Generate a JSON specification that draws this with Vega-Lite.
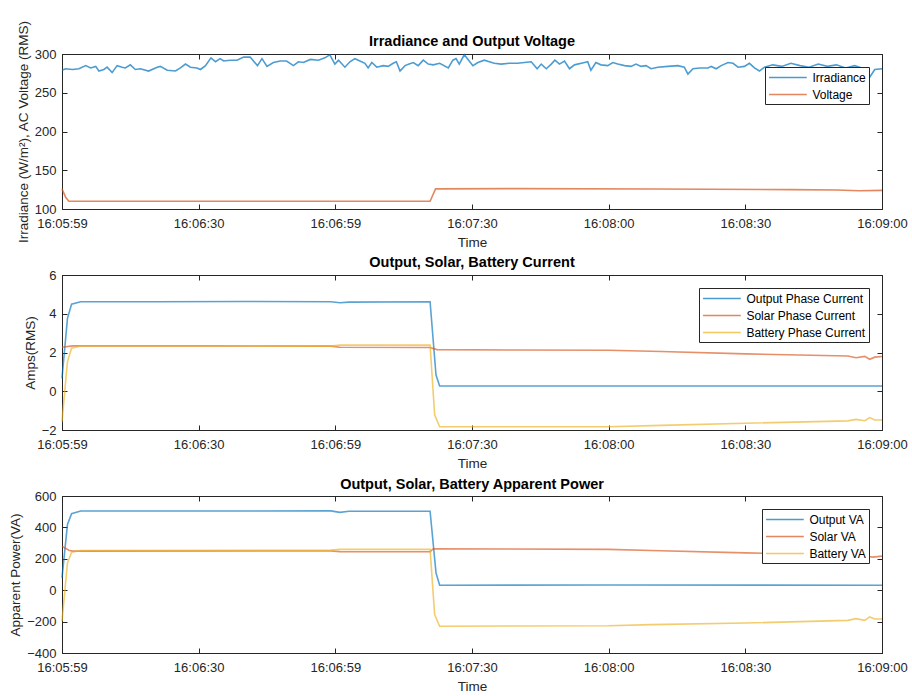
{
  "$schema": "https://vega.github.io/schema/vega-lite/v6.json",
  "padding": {"left": 8, "top": 19, "right": 7, "bottom": 4},
  "background": "white",
  "datasets": {
    "p1": [
      {"t":0,"s":"Irradiance","v":279},{"t":0.8,"s":"Irradiance","v":281},{"t":2.3,"s":"Irradiance","v":280},{"t":3.7,"s":"Irradiance","v":281},{"t":5.2,"s":"Irradiance","v":285},{"t":6.3,"s":"Irradiance","v":282},{"t":7.4,"s":"Irradiance","v":284},{"t":8.1,"s":"Irradiance","v":278},{"t":9.2,"s":"Irradiance","v":280},{"t":9.9,"s":"Irradiance","v":283},{"t":11,"s":"Irradiance","v":276},{"t":12.1,"s":"Irradiance","v":285},{"t":13.2,"s":"Irradiance","v":283},{"t":13.9,"s":"Irradiance","v":282},{"t":15,"s":"Irradiance","v":286},{"t":16.1,"s":"Irradiance","v":280},{"t":17.2,"s":"Irradiance","v":281},{"t":19,"s":"Irradiance","v":278},{"t":20.9,"s":"Irradiance","v":283},{"t":21.6,"s":"Irradiance","v":284},{"t":23.1,"s":"Irradiance","v":279},{"t":24.9,"s":"Irradiance","v":278},{"t":26,"s":"Irradiance","v":282},{"t":27.1,"s":"Irradiance","v":287},{"t":28.2,"s":"Irradiance","v":283},{"t":29.6,"s":"Irradiance","v":282},{"t":30.4,"s":"Irradiance","v":280},{"t":31.5,"s":"Irradiance","v":285},{"t":32.7,"s":"Irradiance","v":295},{"t":33.7,"s":"Irradiance","v":290},{"t":34.7,"s":"Irradiance","v":294},{"t":35.5,"s":"Irradiance","v":291},{"t":36.9,"s":"Irradiance","v":292},{"t":38.4,"s":"Irradiance","v":292},{"t":39.9,"s":"Irradiance","v":296},{"t":41.3,"s":"Irradiance","v":296},{"t":42.9,"s":"Irradiance","v":285},{"t":43.9,"s":"Irradiance","v":294},{"t":45,"s":"Irradiance","v":284},{"t":46.4,"s":"Irradiance","v":289},{"t":47.9,"s":"Irradiance","v":291},{"t":49.3,"s":"Irradiance","v":291},{"t":50.8,"s":"Irradiance","v":285},{"t":51.9,"s":"Irradiance","v":290},{"t":53,"s":"Irradiance","v":289},{"t":54.5,"s":"Irradiance","v":293},{"t":56.3,"s":"Irradiance","v":292},{"t":57.7,"s":"Irradiance","v":295},{"t":58.8,"s":"Irradiance","v":299},{"t":59.9,"s":"Irradiance","v":287},{"t":60.7,"s":"Irradiance","v":292},{"t":62.1,"s":"Irradiance","v":283},{"t":63.2,"s":"Irradiance","v":290},{"t":64.3,"s":"Irradiance","v":294},{"t":65.4,"s":"Irradiance","v":291},{"t":66.5,"s":"Irradiance","v":288},{"t":67.2,"s":"Irradiance","v":282},{"t":68,"s":"Irradiance","v":289},{"t":69.1,"s":"Irradiance","v":283},{"t":70.5,"s":"Irradiance","v":285},{"t":71.6,"s":"Irradiance","v":284},{"t":72.7,"s":"Irradiance","v":288},{"t":73.4,"s":"Irradiance","v":290},{"t":74.2,"s":"Irradiance","v":278},{"t":75.3,"s":"Irradiance","v":285},{"t":76.2,"s":"Irradiance","v":287},{"t":77.1,"s":"Irradiance","v":289},{"t":78.2,"s":"Irradiance","v":285},{"t":79.3,"s":"Irradiance","v":292},{"t":80.4,"s":"Irradiance","v":287},{"t":81.5,"s":"Irradiance","v":286},{"t":82.9,"s":"Irradiance","v":288},{"t":84.8,"s":"Irradiance","v":282},{"t":85.8,"s":"Irradiance","v":292},{"t":86.5,"s":"Irradiance","v":294},{"t":87.2,"s":"Irradiance","v":287},{"t":88.3,"s":"Irradiance","v":299},{"t":90.2,"s":"Irradiance","v":285},{"t":91.3,"s":"Irradiance","v":289},{"t":92.7,"s":"Irradiance","v":292},{"t":93.8,"s":"Irradiance","v":290},{"t":94.9,"s":"Irradiance","v":288},{"t":96.4,"s":"Irradiance","v":287},{"t":98.2,"s":"Irradiance","v":288},{"t":100,"s":"Irradiance","v":288},{"t":103,"s":"Irradiance","v":290},{"t":104.3,"s":"Irradiance","v":281},{"t":105.2,"s":"Irradiance","v":287},{"t":106.3,"s":"Irradiance","v":281},{"t":107.4,"s":"Irradiance","v":287},{"t":108.2,"s":"Irradiance","v":292},{"t":109.2,"s":"Irradiance","v":287},{"t":110.3,"s":"Irradiance","v":291},{"t":111.4,"s":"Irradiance","v":281},{"t":112.5,"s":"Irradiance","v":286},{"t":114.7,"s":"Irradiance","v":289},{"t":115.4,"s":"Irradiance","v":290},{"t":116.1,"s":"Irradiance","v":279},{"t":117.2,"s":"Irradiance","v":289},{"t":118.3,"s":"Irradiance","v":286},{"t":119.8,"s":"Irradiance","v":285},{"t":120.9,"s":"Irradiance","v":289},{"t":122,"s":"Irradiance","v":287},{"t":123.5,"s":"Irradiance","v":285},{"t":124.9,"s":"Irradiance","v":284},{"t":126,"s":"Irradiance","v":287},{"t":127.1,"s":"Irradiance","v":284},{"t":128.2,"s":"Irradiance","v":285},{"t":129.3,"s":"Irradiance","v":281},{"t":130.8,"s":"Irradiance","v":283},{"t":133,"s":"Irradiance","v":284},{"t":135.2,"s":"Irradiance","v":285},{"t":136.6,"s":"Irradiance","v":283},{"t":137.4,"s":"Irradiance","v":274},{"t":138.5,"s":"Irradiance","v":281},{"t":140,"s":"Irradiance","v":282},{"t":141.8,"s":"Irradiance","v":282},{"t":142.5,"s":"Irradiance","v":284},{"t":143.6,"s":"Irradiance","v":281},{"t":144.7,"s":"Irradiance","v":285},{"t":146.2,"s":"Irradiance","v":289},{"t":147.3,"s":"Irradiance","v":288},{"t":148.4,"s":"Irradiance","v":283},{"t":149.8,"s":"Irradiance","v":284},{"t":150.9,"s":"Irradiance","v":288},{"t":152,"s":"Irradiance","v":282},{"t":153.1,"s":"Irradiance","v":278},{"t":154.2,"s":"Irradiance","v":283},{"t":156,"s":"Irradiance","v":286},{"t":158,"s":"Irradiance","v":284},{"t":160,"s":"Irradiance","v":288},{"t":162,"s":"Irradiance","v":285},{"t":164,"s":"Irradiance","v":283},{"t":166,"s":"Irradiance","v":287},{"t":168,"s":"Irradiance","v":284},{"t":170,"s":"Irradiance","v":286},{"t":172,"s":"Irradiance","v":282},{"t":174,"s":"Irradiance","v":285},{"t":176,"s":"Irradiance","v":281},{"t":177.3,"s":"Irradiance","v":270},{"t":178.4,"s":"Irradiance","v":280},{"t":180,"s":"Irradiance","v":281},
      {"t":0,"s":"Voltage","v":126},{"t":0.8,"s":"Voltage","v":115},{"t":1.5,"s":"Voltage","v":110},{"t":40,"s":"Voltage","v":110},{"t":80.8,"s":"Voltage","v":110},{"t":82,"s":"Voltage","v":126},{"t":100,"s":"Voltage","v":126.3},{"t":130,"s":"Voltage","v":125.8},{"t":160,"s":"Voltage","v":125},{"t":170,"s":"Voltage","v":124.5},{"t":175,"s":"Voltage","v":123.5},{"t":180,"s":"Voltage","v":124}
    ],
    "p2": [
      {"t":0,"s":"Output Phase Current","v":0.67},{"t":1.2,"s":"Output Phase Current","v":3.76},{"t":2.1,"s":"Output Phase Current","v":4.49},{"t":4.1,"s":"Output Phase Current","v":4.62},{"t":20,"s":"Output Phase Current","v":4.62},{"t":40,"s":"Output Phase Current","v":4.63},{"t":59,"s":"Output Phase Current","v":4.62},{"t":61,"s":"Output Phase Current","v":4.57},{"t":63,"s":"Output Phase Current","v":4.6},{"t":80.8,"s":"Output Phase Current","v":4.62},{"t":82.1,"s":"Output Phase Current","v":0.84},{"t":82.9,"s":"Output Phase Current","v":0.27},{"t":120,"s":"Output Phase Current","v":0.27},{"t":180,"s":"Output Phase Current","v":0.27},
      {"t":0,"s":"Solar Phase Current","v":2.27},{"t":2.3,"s":"Solar Phase Current","v":2.34},{"t":30,"s":"Solar Phase Current","v":2.34},{"t":59,"s":"Solar Phase Current","v":2.33},{"t":61,"s":"Solar Phase Current","v":2.27},{"t":80.8,"s":"Solar Phase Current","v":2.26},{"t":82.3,"s":"Solar Phase Current","v":2.15},{"t":100,"s":"Solar Phase Current","v":2.13},{"t":120,"s":"Solar Phase Current","v":2.12},{"t":131.5,"s":"Solar Phase Current","v":2.05},{"t":150,"s":"Solar Phase Current","v":1.93},{"t":172.5,"s":"Solar Phase Current","v":1.82},{"t":174.3,"s":"Solar Phase Current","v":1.73},{"t":176.2,"s":"Solar Phase Current","v":1.8},{"t":177.3,"s":"Solar Phase Current","v":1.65},{"t":178.4,"s":"Solar Phase Current","v":1.76},{"t":180,"s":"Solar Phase Current","v":1.79},
      {"t":0,"s":"Battery Phase Current","v":-1.57},{"t":1.2,"s":"Battery Phase Current","v":1.53},{"t":2.1,"s":"Battery Phase Current","v":2.22},{"t":4.1,"s":"Battery Phase Current","v":2.34},{"t":59,"s":"Battery Phase Current","v":2.33},{"t":61,"s":"Battery Phase Current","v":2.38},{"t":80.8,"s":"Battery Phase Current","v":2.39},{"t":81.8,"s":"Battery Phase Current","v":-1.22},{"t":82.9,"s":"Battery Phase Current","v":-1.83},{"t":120,"s":"Battery Phase Current","v":-1.83},{"t":131.5,"s":"Battery Phase Current","v":-1.76},{"t":150,"s":"Battery Phase Current","v":-1.65},{"t":172.5,"s":"Battery Phase Current","v":-1.53},{"t":174.3,"s":"Battery Phase Current","v":-1.45},{"t":176.2,"s":"Battery Phase Current","v":-1.52},{"t":177.3,"s":"Battery Phase Current","v":-1.36},{"t":178.4,"s":"Battery Phase Current","v":-1.48},{"t":180,"s":"Battery Phase Current","v":-1.48}
    ],
    "p3": [
      {"t":0,"s":"Output VA","v":79},{"t":1.2,"s":"Output VA","v":419},{"t":2.1,"s":"Output VA","v":487},{"t":4.1,"s":"Output VA","v":504},{"t":59,"s":"Output VA","v":505},{"t":61,"s":"Output VA","v":496},{"t":63,"s":"Output VA","v":503},{"t":80.8,"s":"Output VA","v":503},{"t":82.1,"s":"Output VA","v":110},{"t":82.9,"s":"Output VA","v":32},{"t":120,"s":"Output VA","v":33},{"t":180,"s":"Output VA","v":32},
      {"t":0,"s":"Solar VA","v":281},{"t":1.5,"s":"Solar VA","v":255},{"t":2.3,"s":"Solar VA","v":249},{"t":59,"s":"Solar VA","v":250},{"t":61,"s":"Solar VA","v":246},{"t":80.8,"s":"Solar VA","v":245},{"t":81.5,"s":"Solar VA","v":264},{"t":120,"s":"Solar VA","v":260},{"t":129.3,"s":"Solar VA","v":253},{"t":150,"s":"Solar VA","v":238},{"t":165,"s":"Solar VA","v":230},{"t":172.5,"s":"Solar VA","v":226},{"t":177,"s":"Solar VA","v":215},{"t":178,"s":"Solar VA","v":211},{"t":180,"s":"Solar VA","v":217},
      {"t":0,"s":"Battery VA","v":-198},{"t":1.2,"s":"Battery VA","v":174},{"t":2.1,"s":"Battery VA","v":242},{"t":4.1,"s":"Battery VA","v":253},{"t":59,"s":"Battery VA","v":255},{"t":61,"s":"Battery VA","v":260},{"t":80.8,"s":"Battery VA","v":260},{"t":81.8,"s":"Battery VA","v":-155},{"t":82.9,"s":"Battery VA","v":-230},{"t":120,"s":"Battery VA","v":-226},{"t":129.3,"s":"Battery VA","v":-219},{"t":150,"s":"Battery VA","v":-209},{"t":172.5,"s":"Battery VA","v":-192},{"t":174.3,"s":"Battery VA","v":-181},{"t":176.2,"s":"Battery VA","v":-192},{"t":177.3,"s":"Battery VA","v":-170},{"t":178.4,"s":"Battery VA","v":-183},{"t":180,"s":"Battery VA","v":-183}
    ]
  },
  "vconcat": [
    {
      "title": {"text": "Irradiance and Output Voltage", "offset": -29},
      "width": 820, "height": 155,
      "data": {"name": "p1"},
      "layer": [
        {
          "mark": {"type": "line", "strokeWidth": 1.6, "opacity": 0.7},
          "encoding": {
            "x": {"field": "t", "type": "quantitative", "scale": {"domain": [0, 180], "nice": false}, "axis": {"title": "Time", "values": [0,30,60,90,120,150,180], "labelExpr": "['16:05:59','16:06:30','16:06:59','16:07:30','16:08:00','16:08:30','16:09:00'][round(datum.value/30)]"}},
            "y": {"field": "v", "type": "quantitative", "scale": {"domain": [100, 300], "nice": false}, "axis": {"title": "Irradiance (W/m²), AC Voltage (RMS)", "values": [100,150,200,250,300]}},
            "color": {"field": "s", "type": "nominal", "scale": {"domain": ["Irradiance","Voltage"], "range": ["#0072BD","#D95319"]}, "legend": {"title": null}}
          }
        },
        {
          "mark": {"type": "line", "opacity": 0},
          "encoding": {
            "x": {"field": "t", "type": "quantitative", "axis": {"orient": "top", "title": null, "labels": false, "domain": false, "values": [0,30,60,90,120,150,180]}},
            "y": {"field": "v", "type": "quantitative", "axis": {"orient": "right", "title": null, "labels": false, "domain": false, "values": [100,150,200,250,300]}}
          }
        }
      ],
      "resolve": {"axis": {"x": "independent", "y": "independent"}}
    },
    {
      "title": {"text": "Output, Solar, Battery Current", "offset": -1},
      "width": 820, "height": 155,
      "data": {"name": "p2"},
      "layer": [
        {
          "mark": {"type": "line", "strokeWidth": 1.6, "opacity": 0.65},
          "encoding": {
            "x": {"field": "t", "type": "quantitative", "scale": {"domain": [0, 180], "nice": false}, "axis": {"title": "Time", "values": [0,30,60,90,120,150,180], "labelExpr": "['16:05:59','16:06:30','16:06:59','16:07:30','16:08:00','16:08:30','16:09:00'][round(datum.value/30)]"}},
            "y": {"field": "v", "type": "quantitative", "scale": {"domain": [-2, 6], "nice": false}, "axis": {"title": "Amps(RMS)", "values": [-2,0,2,4,6]}},
            "color": {"field": "s", "type": "nominal", "scale": {"domain": ["Output Phase Current","Solar Phase Current","Battery Phase Current"], "range": ["#0072BD","#D95319","#EDB120"]}, "legend": {"title": null}}
          }
        },
        {
          "mark": {"type": "line", "opacity": 0},
          "encoding": {
            "x": {"field": "t", "type": "quantitative", "axis": {"orient": "top", "title": null, "labels": false, "domain": false, "values": [0,30,60,90,120,150,180]}},
            "y": {"field": "v", "type": "quantitative", "axis": {"orient": "right", "title": null, "labels": false, "domain": false, "values": [-2,0,2,4,6]}}
          }
        }
      ],
      "resolve": {"axis": {"x": "independent", "y": "independent"}}
    },
    {
      "title": {"text": "Output, Solar, Battery Apparent Power", "offset": -2},
      "width": 820, "height": 157,
      "data": {"name": "p3"},
      "layer": [
        {
          "mark": {"type": "line", "strokeWidth": 1.6, "opacity": 0.65},
          "encoding": {
            "x": {"field": "t", "type": "quantitative", "scale": {"domain": [0, 180], "nice": false}, "axis": {"title": "Time", "values": [0,30,60,90,120,150,180], "labelExpr": "['16:05:59','16:06:30','16:06:59','16:07:30','16:08:00','16:08:30','16:09:00'][round(datum.value/30)]"}},
            "y": {"field": "v", "type": "quantitative", "scale": {"domain": [-400, 600], "nice": false}, "axis": {"title": "Apparent Power(VA)", "values": [-400,-200,0,200,400,600]}},
            "color": {"field": "s", "type": "nominal", "scale": {"domain": ["Output VA","Solar VA","Battery VA"], "range": ["#0072BD","#D95319","#EDB120"]}, "legend": {"title": null}}
          }
        },
        {
          "mark": {"type": "line", "opacity": 0},
          "encoding": {
            "x": {"field": "t", "type": "quantitative", "axis": {"orient": "top", "title": null, "labels": false, "domain": false, "values": [0,30,60,90,120,150,180]}},
            "y": {"field": "v", "type": "quantitative", "axis": {"orient": "right", "title": null, "labels": false, "domain": false, "values": [-400,-200,0,200,400,600]}}
          }
        }
      ],
      "resolve": {"axis": {"x": "independent", "y": "independent"}}
    }
  ],
  "spacing": 66,
  "bounds": "flush",
  "resolve": {"scale": {"color": "independent"}, "legend": {"color": "independent"}},
  "config": {
    "font": "Liberation Sans",
    "view": {"stroke": "#262626", "strokeWidth": 1},
    "axis": {"grid": false, "domainColor": "#262626", "tickColor": "#262626", "tickSize": -5, "labelFontSize": 13, "labelColor": "#262626", "titleFontSize": 13.5, "titleFontWeight": "normal", "titleColor": "#262626", "labelFlush": false, "labelOverlap": false},
    "axisX": {"labelPadding": 13, "titlePadding": 5},
    "axisY": {"labelPadding": 11, "titlePadding": 4},
    "title": {"fontSize": 14.5, "fontWeight": "bold", "color": "#000000", "anchor": "middle"},
    "legend": {"orient": "top-right", "offset": 13, "strokeColor": "#262626", "fillColor": "white", "padding": 3, "symbolType": "M-2.9,0H2.9", "symbolSize": 169, "symbolStrokeWidth": 1.6, "symbolOpacity": 0.7, "symbolOffset": 12.4, "labelOffset": 17, "labelFontSize": 12, "labelColor": "#000000", "rowPadding": 3, "cornerRadius": 0}
  }
}
